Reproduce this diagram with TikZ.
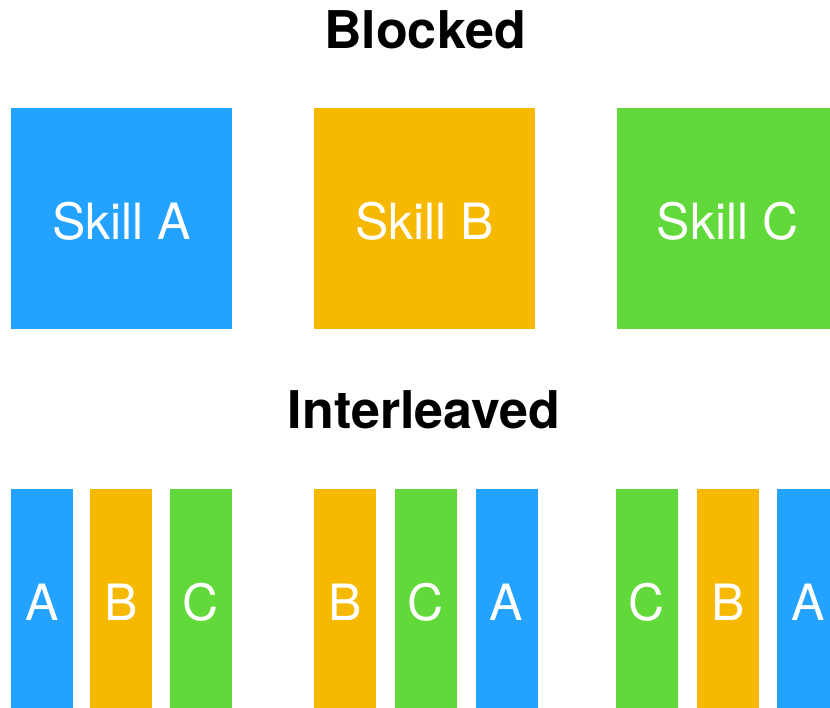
\documentclass[tikz,border=0pt]{standalone}
\usepackage{fontspec}
\setmainfont{TeX Gyre Heros}
\definecolor{skA}{HTML}{23A2FF}
\definecolor{skB}{HTML}{F7B900}
\definecolor{skC}{HTML}{62D93A}
\begin{document}
\begin{tikzpicture}[x=1pt,y=-1pt,
  title/.style={anchor=base,font=\fontsize{52}{60}\selectfont\bfseries,text=black,inner sep=0pt},
  block/.style={rectangle,inner sep=0pt,minimum width=221pt,minimum height=221pt,text=white,
    font=\fontsize{50}{60}\selectfont,text height=41pt,text depth=0pt},
  bar/.style={rectangle,inner sep=0pt,minimum width=62pt,minimum height=222pt,text=white,
    font=\fontsize{50}{60}\selectfont,text height=41pt,text depth=0pt}]
\useasboundingbox (0,0) rectangle (830,707);
\clip (0,0) rectangle (830,707);
\node[title] (t1) at (425,48) {Blocked};
\node[title] (t2) at (424,428) {Interleaved};
\node[block,fill=skA] (sa) at (121.5,218.5) {Skill A};
\node[block,fill=skB] (sb) at (424.5,218.5) {Skill B};
\node[block,fill=skC] (sc) at (727.5,218.5) {Skill C};
% group 1
\node[bar,fill=skA] (a1) at (42,600) {A};
\node[bar,fill=skB] (b1) at (121,600) {B};
\node[bar,fill=skC] (c1) at (201,600) {C};
% group 2
\node[bar,fill=skB] (b2) at (345,600) {B};
\node[bar,fill=skC] (c2) at (426,600) {C};
\node[bar,fill=skA] (a2) at (506.5,600) {A};
% group 3
\node[bar,fill=skC] (c3) at (647,600) {C};
\node[bar,fill=skB] (b3) at (728,600) {B};
\node[bar,fill=skA] (a3) at (808,600) {A};
\end{tikzpicture}
\end{document}
